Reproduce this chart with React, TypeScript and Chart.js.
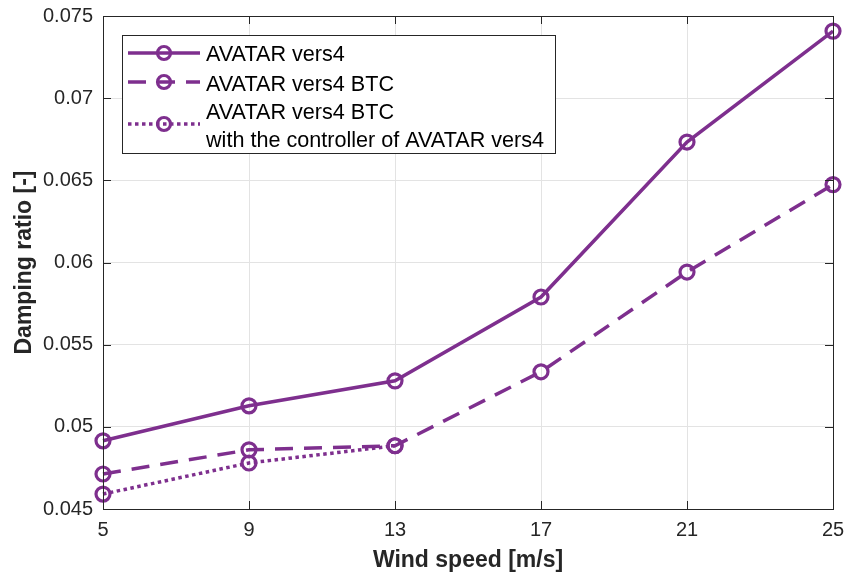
import React, { useEffect, useRef } from "react";
import { Chart, registerables } from "chart.js";

Chart.register(...registerables);

const windSpeeds = [5, 9, 13, 17, 21, 25];
const avatarVers4 = [0.04915, 0.05128, 0.0528, 0.0579, 0.06733, 0.07408];
const avatarVers4BTC = [0.04713, 0.0486, 0.04885, 0.05335, 0.05942, 0.06474];
const avatarVers4BTCCtrl = [0.04591, 0.0478, 0.04885];
const legendLabels = [
  ["AVATAR vers4"],
  ["AVATAR vers4 BTC"],
  ["AVATAR vers4 BTC", "with the controller of AVATAR vers4"],
];
const xTicks = [5, 9, 13, 17, 21, 25];
const yTicks = [0.045, 0.05, 0.055, 0.06, 0.065, 0.07, 0.075];
const xTitle = "Wind speed [m/s]";
const yTitle = "Damping ratio [-]";

const PURPLE = "#7E2F8E";
const AXIS = "#262626";
const FONT = "'Liberation Sans', Arial, Helvetica, sans-serif";
const DASHES: number[][] = [[], [18, 11], [3.5, 3.5]];

function toPoints(xs: number[], ys: number[]) {
  return ys.map((y, i) => ({ x: xs[i], y }));
}

const framePlugin = {
  id: "frameAndLegend",
  afterDraw(chart: any) {
    const { ctx, chartArea } = chart;
    const { left, right, top, bottom } = chartArea;
    const xs = chart.scales.x;
    const ys = chart.scales.y;
    ctx.save();
    ctx.strokeStyle = AXIS;
    ctx.lineWidth = 1;
    ctx.setLineDash([]);
    ctx.strokeRect(left + 0.5, top + 0.5, right - left, bottom - top);
    const tl = 8;
    ctx.beginPath();
    xTicks.forEach((v) => {
      const px = Math.round(xs.getPixelForValue(v)) + 0.5;
      ctx.moveTo(px, bottom);
      ctx.lineTo(px, bottom - tl);
      ctx.moveTo(px, top);
      ctx.lineTo(px, top + tl);
    });
    yTicks.forEach((v) => {
      const py = Math.round(ys.getPixelForValue(v)) + 0.5;
      ctx.moveTo(left, py);
      ctx.lineTo(left + tl, py);
      ctx.moveTo(right, py);
      ctx.lineTo(right - tl, py);
    });
    ctx.stroke();

    // legend
    const bx = 122, by = 35, bw = 433, bh = 118;
    ctx.fillStyle = "#ffffff";
    ctx.fillRect(bx, by, bw, bh);
    ctx.strokeStyle = AXIS;
    ctx.lineWidth = 1;
    ctx.strokeRect(bx + 0.5, by + 0.5, bw, bh);
    const rowY = [53, 82, 124];
    const textY = [[55], [85], [113, 141]];
    ctx.font = `21.6px ${FONT}`;
    ctx.textBaseline = "middle";
    ctx.textAlign = "left";
    legendLabels.forEach((lines, i) => {
      const cy = rowY[i];
      ctx.strokeStyle = PURPLE;
      ctx.lineWidth = 3.5;
      ctx.lineCap = "butt";
      ctx.setLineDash(DASHES[i]);
      ctx.beginPath();
      ctx.moveTo(128, cy);
      ctx.lineTo(200, cy);
      ctx.stroke();
      ctx.setLineDash([]);
      ctx.lineWidth = 3.2;
      ctx.beginPath();
      ctx.arc(164, cy, 6.5, 0, Math.PI * 2);
      ctx.stroke();
      ctx.fillStyle = "#000000";
      lines.forEach((t, j) => {
        ctx.fillText(t, 206, textY[i][j]);
      });
    });
    ctx.restore();
  },
};

export default function App() {
  const ref = useRef<HTMLCanvasElement | null>(null);
  useEffect(() => {
    document.body.style.margin = "0";
    const canvas = ref.current!;
    const mk = (label: string, data: number[], i: number) => ({
      label,
      data: toPoints(windSpeeds, data),
      borderColor: PURPLE,
      backgroundColor: "transparent",
      borderWidth: 3.5,
      borderDash: DASHES[i],
      pointRadius: 7,
      pointBorderWidth: 3.2,
      pointBackgroundColor: "rgba(0,0,0,0)",
      pointBorderColor: PURPLE,
      pointStyle: "circle",
      tension: 0,
      clip: false as any,
      fill: false,
    });
    const chart = new Chart(canvas, {
      type: "line",
      data: {
        datasets: [
          mk(legendLabels[0].join(" "), avatarVers4, 0),
          mk(legendLabels[1].join(" "), avatarVers4BTC, 1),
          mk(legendLabels[2].join(" "), avatarVers4BTCCtrl, 2),
        ],
      },
      options: {
        responsive: false,
        animation: false,
        devicePixelRatio: 1,
        layout: { padding: { top: 16, right: 13, left: 0, bottom: 0 } },
        plugins: {
          legend: { display: false },
          tooltip: { enabled: false },
        },
        scales: {
          x: {
            type: "linear",
            min: 5,
            max: 25,
            afterBuildTicks: (s: any) => {
              s.ticks = xTicks.map((v) => ({ value: v }));
            },
            afterFit: (s: any) => {
              s.height = 65;
              s.paddingLeft = 0;
              s.paddingRight = 0;
            },
            ticks: {
              color: AXIS,
              font: { family: FONT, size: 20 },
              padding: 9,
              maxRotation: 0,
              autoSkip: false,
            },
            grid: { color: "#e3e3e3", drawTicks: false, lineWidth: 1 },
            border: { display: false },
            title: {
              display: true,
              text: xTitle,
              color: AXIS,
              font: { family: FONT, size: 23, weight: "bold" },
              padding: { top: 0, bottom: 0 },
            },
          },
          y: {
            type: "linear",
            min: 0.045,
            max: 0.075,
            afterBuildTicks: (s: any) => {
              s.ticks = yTicks.map((v) => ({ value: v }));
            },
            afterFit: (s: any) => {
              s.width = 103;
              s.paddingTop = 0;
              s.paddingBottom = 0;
            },
            ticks: {
              color: AXIS,
              font: { family: FONT, size: 20 },
              padding: 10,
              callback: (v: any) => String(Number(Number(v).toFixed(3))),
            },
            grid: { color: "#e3e3e3", drawTicks: false, lineWidth: 1 },
            border: { display: false },
            title: {
              display: true,
              text: yTitle,
              color: AXIS,
              font: { family: FONT, size: 23, weight: "bold" },
              padding: { top: 11, bottom: 0 },
            },
          },
        },
      } as any,
      plugins: [framePlugin],
    });
    return () => chart.destroy();
  }, []);
  return (
    <div style={{ position: "absolute", left: 0, top: 0, width: 846, height: 574, background: "#fff" }}>
      <canvas ref={ref} width={846} height={574} style={{ display: "block" }} />
    </div>
  );
}
